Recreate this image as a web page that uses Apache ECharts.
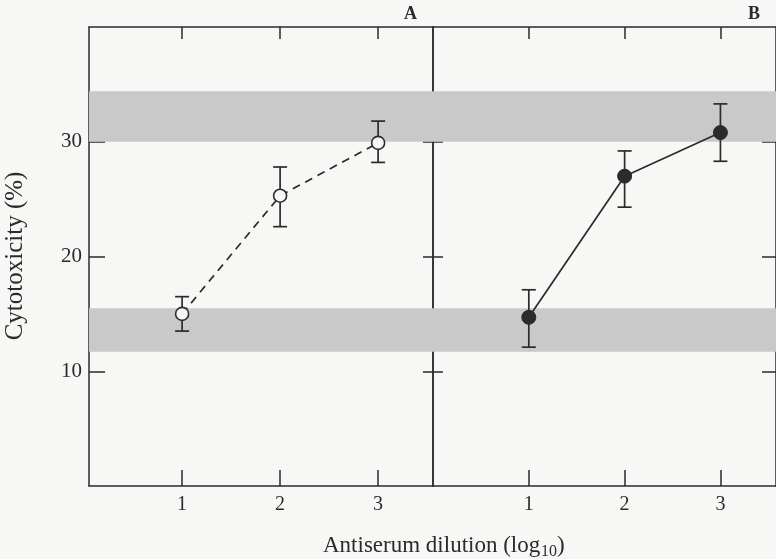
<!DOCTYPE html>
<html>
<head>
<meta charset="utf-8">
<script src="https://cdn.jsdelivr.net/npm/echarts@6/dist/echarts.min.js"></script>
<style>
html,body{margin:0;padding:0;background:#f7f7f5;}
#c{width:776px;height:559px;}
</style>
</head>
<body>
<div id="c"></div>
<script>
// ---- data ----
const dilution = [1, 2, 3];
const xTickLabels = [1, 2, 3];
const yTickLabels = [10, 20, 30];
const panelA_mean = [15.0, 25.3, 29.9];
const panelA_low  = [13.5, 22.6, 28.2];
const panelA_high = [16.5, 27.8, 31.8];
const panelB_mean = [14.7, 27.0, 30.8];
const panelB_low  = [12.1, 24.3, 28.3];
const panelB_high = [17.1, 29.2, 33.3];
const bandUpper = [30, 34.4];
const bandLower = [11.7, 15.5];
const panelLabels = ['A', 'B'];

const INK = '#2b2b2b';
const FONT = '"Liberation Serif", "DejaVu Serif", serif';

const chart = echarts.init(document.getElementById('c'), null, {renderer: 'canvas'});

function xAxisPair(gridIndex, min, max) {
  const base = {
    type: 'value', gridIndex, min, max,
    splitLine: {show: false},
    axisLine: {show: true, onZero: false, lineStyle: {color: INK, width: 1.5}},
  };
  return [
    Object.assign({}, base, {
      position: 'bottom',
      axisTick: {show: true, inside: true, length: 16, customValues: xTickLabels, lineStyle: {color: INK, width: 1.5}},
      axisLabel: {show: true, customValues: xTickLabels, margin: 9, color: INK, fontFamily: FONT, fontSize: 20}
    }),
    Object.assign({}, base, {
      position: 'top',
      axisTick: {show: true, inside: true, length: 12, customValues: xTickLabels, lineStyle: {color: INK, width: 1.5}},
      axisLabel: {show: false}
    })
  ];
}
function yAxisPair(gridIndex, showLabels, leftLen, rightLen) {
  const base = {
    type: 'value', gridIndex, min: 0, max: 40,
    splitLine: {show: false},
    axisLine: {show: true, onZero: false, lineStyle: {color: INK, width: 1.5}},
  };
  return [
    Object.assign({}, base, {
      position: 'left',
      axisTick: {show: true, inside: true, length: leftLen, customValues: yTickLabels, lineStyle: {color: INK, width: 1.5}},
      axisLabel: {show: showLabels, customValues: yTickLabels, margin: 7, color: INK, fontFamily: FONT, fontSize: 21}
    }),
    Object.assign({}, base, {
      position: 'right',
      axisTick: {show: true, inside: true, length: rightLen, customValues: yTickLabels, lineStyle: {color: INK, width: 1.5}},
      axisLabel: {show: false}
    })
  ];
}

function errorSeries(xi, yi, low, high) {
  return {
    type: 'custom',
    xAxisIndex: xi, yAxisIndex: yi,
    silent: true, z: 3,
    data: dilution.map((d, i) => [d, low[i], high[i]]),
    renderItem: function (params, api) {
      const x = api.value(0);
      const lo = api.coord([x, api.value(1)]);
      const hi = api.coord([x, api.value(2)]);
      const hw = 7;
      const st = {stroke: INK, lineWidth: 1.7};
      return {
        type: 'group',
        children: [
          {type: 'line', shape: {x1: lo[0], y1: lo[1], x2: hi[0], y2: hi[1]}, style: st},
          {type: 'line', shape: {x1: lo[0] - hw, y1: lo[1], x2: lo[0] + hw, y2: lo[1]}, style: st},
          {type: 'line', shape: {x1: hi[0] - hw, y1: hi[1], x2: hi[0] + hw, y2: hi[1]}, style: st}
        ]
      };
    }
  };
}

const bands = {
  silent: true,
  itemStyle: {color: '#c9c9c9'},
  data: [
    [{yAxis: bandUpper[0]}, {yAxis: bandUpper[1]}],
    [{yAxis: bandLower[0]}, {yAxis: bandLower[1]}]
  ]
};

const xa = xAxisPair(0, 0.05, 3.56);
const xb = xAxisPair(1, 0, 3.58);
const ya = yAxisPair(0, true, 16, 10);
const yb = yAxisPair(1, false, 10, 14);

const option = {
  backgroundColor: '#f7f7f5',
  animation: false,
  grid: [
    {left: 89, top: 27, width: 344, height: 459},
    {left: 433, top: 27, width: 346, height: 459}
  ],
  xAxis: [xa[0], xa[1], xb[0], xb[1]],
  yAxis: [ya[0], ya[1], yb[0], yb[1]],
  series: [
    {
      type: 'line', xAxisIndex: 0, yAxisIndex: 0, z: 4,
      data: dilution.map((d, i) => [d, panelA_mean[i]]),
      symbol: 'circle', symbolSize: 13,
      lineStyle: {color: INK, width: 1.7, type: [8, 6]},
      itemStyle: {color: '#f7f7f5', borderColor: INK, borderWidth: 1.6},
      markArea: bands
    },
    errorSeries(0, 0, panelA_low, panelA_high),
    {
      type: 'line', xAxisIndex: 2, yAxisIndex: 2, z: 4,
      data: dilution.map((d, i) => [d, panelB_mean[i]]),
      symbol: 'circle', symbolSize: 14,
      lineStyle: {color: INK, width: 1.7},
      itemStyle: {color: INK, borderColor: INK, borderWidth: 1},
      markArea: bands
    },
    errorSeries(2, 2, panelB_low, panelB_high)
  ],
  graphic: [
    {type: 'text', left: 404, top: 5, style: {text: panelLabels[0], font: 'bold 18px ' + FONT, fill: INK}},
    {type: 'text', left: 748, top: 5, style: {text: panelLabels[1], font: 'bold 18px ' + FONT, fill: INK}},
    {type: 'text', x: 15, y: 256, rotation: Math.PI / 2,
      style: {text: 'Cytotoxicity (%)', font: '25px ' + FONT, fill: INK, align: 'center', verticalAlign: 'middle'}},
    {type: 'group', left: 323, top: 534, children: [
      {type: 'text', x: 0, y: 0, style: {text: 'Antiserum dilution (log', font: '23px ' + FONT, fill: INK}},
      {type: 'text', x: 218, y: 10, style: {text: '10', font: '16px ' + FONT, fill: INK}},
      {type: 'text', x: 234, y: 0, style: {text: ')', font: '23px ' + FONT, fill: INK}}
    ]}
  ]
};
chart.setOption(option);
</script>
</body>
</html>
